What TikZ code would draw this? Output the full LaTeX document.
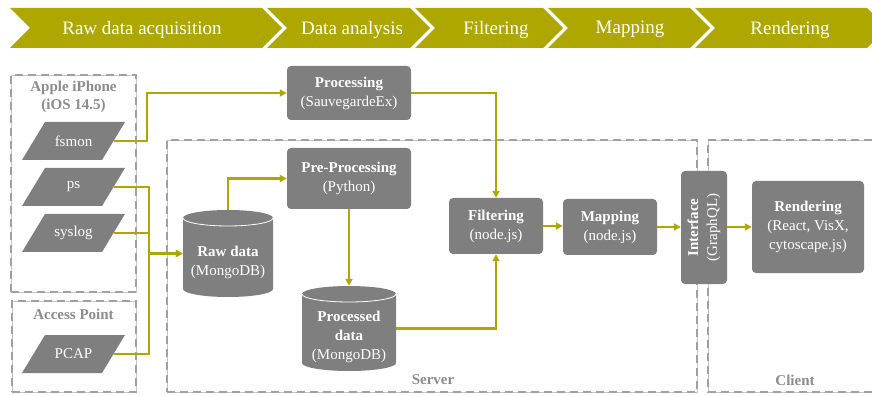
\documentclass[tikz,border=0pt]{standalone}
\usepackage{fontspec}
\setmainfont{Liberation Serif}
\usetikzlibrary{arrows.meta,calc}
\definecolor{myolive}{RGB}{174,167,0}
\definecolor{boxgray}{RGB}{127,127,127}
\definecolor{dashgray}{RGB}{160,160,160}
\definecolor{labgray}{RGB}{140,140,140}
\tikzset{
  box/.style={rectangle, rounded corners=4pt, fill=boxgray, text=white, align=center,
    font=\fontsize{15}{19}\selectfont, inner sep=0pt},
  txt/.style={text=white, align=center, font=\fontsize{15}{19}\selectfont, inner sep=0pt},
  lab/.style={text=labgray, align=center, font=\fontsize{15}{18}\selectfont\bfseries, inner sep=0pt},
  chtxt/.style={text=white, font=\fontsize{19}{22}\selectfont, inner sep=0pt},
  arr/.style={draw=myolive, line width=2.4pt, -{Triangle[length=7pt,width=7pt]}},
  arrline/.style={draw=myolive, line width=2.4pt},
  dbox/.style={draw=dashgray, line width=2.7pt, dash pattern=on 8pt off 5pt,
    preaction={draw=dashgray!60, line width=0.6pt, solid}},
  para/.style={rectangle, minimum width=103pt, minimum height=38pt, inner sep=0pt,
    text=white, font=\fontsize{15}{18}\selectfont,
    path picture={\fill[boxgray] ($(path picture bounding box.north west)+(23pt,0)$) --
      (path picture bounding box.north east) --
      ($(path picture bounding box.south east)+(-23pt,0)$) --
      (path picture bounding box.south west) -- cycle;}},
  cylarea/.style={rectangle, inner sep=0pt, draw=none}
}
\begin{document}
\begin{tikzpicture}[x=1pt,y=-1pt]
\useasboundingbox (0,0) rectangle (872,395);
\clip (0,0) rectangle (872,395);
\fill[white] (0,0) rectangle (872,395);

% banner chevrons
\foreach \i/\a/\b/\t/\c in {1/10/262/Raw data acquisition/142, 2/267/410/Data analysis/352,
  3/415/543/Filtering/496, 4/548/690/Mapping/630, 5/695/867/Rendering/790}{
  \fill[myolive] (\a,8) -- (\b,8) -- (\b+20,28) -- (\b,48) -- (\a,48) -- (\a+20,28) -- cycle;
  \node[chtxt] (ch\i) at (\c,29.5) {\t};
}

% dashed areas
\node[dbox, rectangle, minimum width=125pt, minimum height=217pt, inner sep=0pt] (iphone) at (73.5,183.5) {};
\node[dbox, rectangle, minimum width=124pt, minimum height=91pt, inner sep=0pt] (ap) at (74,346.5) {};
\node[dbox, rectangle, minimum width=530pt, minimum height=252pt, inner sep=0pt] (server) at (432,266) {};
\draw[dbox] (885,140) -- (708,140) -- (708,392) -- (885,392);

\node[lab] (iphonelab) at (73.5,97) {Apple iPhone\\(iOS 14.5)};
\node[lab] (aplab) at (73.5,314) {Access Point};
\node[lab] (serverlab) at (433,380) {Server};
\node[lab] (clientlab) at (795,380) {Client};

% sources
\node[para] (fsmon) at (73.5,141) {fsmon};
\node[para] (ps) at (73.5,187) {ps};
\node[para] (syslog) at (73.5,233) {syslog};
\node[para] (pcap) at (73.5,354) {PCAP};

% boxes
\node[box, minimum width=124pt, minimum height=54pt] (proc) at (349,93) {\textbf{Processing}\\(SauvegardeEx)};
\node[box, minimum width=124pt, minimum height=61pt] (pre) at (349,178.5) {\textbf{Pre-Processing}\\(Python)};
\node[box, minimum width=94pt, minimum height=56pt] (filt) at (496,226) {\textbf{Filtering}\\(node.js)};
\node[box, minimum width=94pt, minimum height=56pt] (map) at (610,227) {\textbf{Mapping}\\(node.js)};
\node[box, minimum width=46pt, minimum height=113pt] (intf) at (704,227.5) {};
\node[txt, rotate=90] (intft) at (intf.center) {\textbf{Interface}\\(GraphQL)};
\node[box, minimum width=112pt, minimum height=92pt] (rend) at (808,227) {\textbf{Rendering}\\(React, VisX,\\cytoscape.js)};

% cylinders
\fill[boxgray] (183,218) arc[start angle=180, end angle=360, x radius=45, y radius=8]
  -- (273,289) arc[start angle=0, end angle=180, x radius=45, y radius=8] -- cycle;
\draw[white, line width=0.8pt] (273,218) arc[start angle=0, end angle=180, x radius=45, y radius=8];
\node[cylarea, minimum width=90pt, minimum height=87pt] (raw) at (228,253.5) {};
\node[txt] (rawt) at (228,262) {\textbf{Raw data}\\(MongoDB)};

\fill[boxgray] (302,294) arc[start angle=180, end angle=360, x radius=47, y radius=8]
  -- (396,363) arc[start angle=0, end angle=180, x radius=47, y radius=8] -- cycle;
\draw[white, line width=0.8pt] (396,294) arc[start angle=0, end angle=180, x radius=47, y radius=8];
\node[cylarea, minimum width=94pt, minimum height=85pt] (procd) at (349,328.5) {};
\node[txt] (procdt) at (349,337) {\textbf{Processed}\\\textbf{data}\\(MongoDB)};

% connectors
\draw[arr] ($(fsmon.east)+(-11,0)$) -- ++(33,0) |- (proc.west);
\draw[arr] ($(ps.east)+(-11,0)$) -- ++(35,0) |- (raw.west);
\draw[arrline] ($(syslog.east)+(-11,0)$) -- ++(35,0);
\draw[arr] ($(pcap.east)+(-11,0)$) -- ++(35,0) |- (raw.west);
\draw[arr] (raw.north) |- (pre.west);
\draw[arr] (pre.south) -- (procd.north);
\draw[arr] (procd.east) -| (filt.south);
\draw[arr] (proc.east) -| (filt.north);
\draw[arr] (filt.east) -- (filt.east -| map.west);
\draw[arr] (map.east) -- (map.east -| intf.west);
\draw[arr] (intf.east |- rend.west) -- (rend.west);
\end{tikzpicture}
\end{document}
